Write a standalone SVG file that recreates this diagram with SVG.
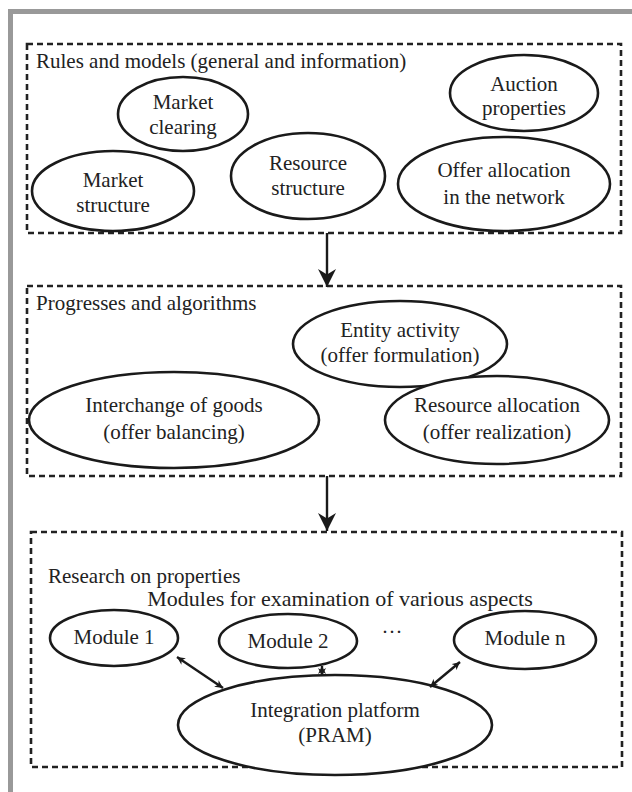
<svg xmlns="http://www.w3.org/2000/svg" width="632" height="792" viewBox="0 0 632 792">
<defs>
<style>
.frame{fill:none;stroke:#999;stroke-width:5}
.box{fill:none;stroke:#222;stroke-width:2.6;stroke-dasharray:6 4}
.node{fill:#fff;stroke:#1a1a1a;stroke-width:2.6}
.t{font-family:"Liberation Serif","Times New Roman",serif;font-size:21px;fill:#222}
.c{text-anchor:middle}
.line{stroke:#1a1a1a;stroke-width:2.4;fill:none}
</style>
<marker id="ah" viewBox="0 0 10 10" refX="10" refY="5" markerWidth="8" markerHeight="8" markerUnits="userSpaceOnUse" orient="auto-start-reverse">
<path d="M0,0 L10,5 L0,10 L3,5 z" fill="#1a1a1a"/>
</marker>
<marker id="big" viewBox="0 0 10 10" refX="10" refY="5" markerWidth="18" markerHeight="20" markerUnits="userSpaceOnUse" orient="auto">
<path d="M0,0 L10,5 L0,10 L3,5 z" fill="#1a1a1a"/>
</marker>
</defs>
<rect width="632" height="792" fill="#fff"/>
<path class="frame" d="M10.5,792 V11.5 H632"/>

<g id="group-rules">
<rect class="box" x="27" y="44" width="594" height="189"/>
<text class="t" x="36" y="68">Rules and models (general and information)</text>
</g>
<g id="node-market-clearing">
<ellipse class="node" cx="183" cy="114" rx="65" ry="37"/>
<text class="t c" x="183" y="109">Market</text>
<text class="t c" x="183" y="134">clearing</text>
</g>
<g id="node-auction">
<ellipse class="node" cx="524" cy="93" rx="74" ry="38"/>
<text class="t c" x="524" y="91">Auction</text>
<text class="t c" x="524" y="115">properties</text>
</g>
<g id="node-market-structure">
<ellipse class="node" cx="113" cy="191" rx="81" ry="40"/>
<text class="t c" x="113" y="187">Market</text>
<text class="t c" x="113" y="212">structure</text>
</g>
<g id="node-resource-structure">
<ellipse class="node" cx="308" cy="176" rx="77" ry="43"/>
<text class="t c" x="308" y="170">Resource</text>
<text class="t c" x="308" y="195">structure</text>
</g>
<g id="node-offer-allocation">
<ellipse class="node" cx="504" cy="184" rx="106" ry="47"/>
<text class="t c" x="504" y="177">Offer allocation</text>
<text class="t c" x="504" y="204">in the network</text>
</g>

<g id="group-progresses">
<rect class="box" x="27" y="286" width="594" height="190"/>
<text class="t" x="36" y="310">Progresses and algorithms</text>
</g>
<g id="node-entity">
<ellipse class="node" cx="400" cy="344" rx="107" ry="43"/>
<text class="t c" x="400" y="337">Entity activity</text>
<text class="t c" x="400" y="362">(offer formulation)</text>
</g>
<g id="node-interchange">
<ellipse class="node" cx="174" cy="420" rx="145" ry="48"/>
<text class="t c" x="174" y="412">Interchange of goods</text>
<text class="t c" x="174" y="439">(offer balancing)</text>
</g>
<g id="node-resource-allocation">
<ellipse class="node" cx="497" cy="420" rx="112" ry="44"/>
<text class="t c" x="497" y="412">Resource allocation</text>
<text class="t c" x="497" y="439">(offer realization)</text>
</g>

<g id="group-research">
<rect class="box" x="31" y="532" width="591" height="235"/>
<text class="t" x="48" y="583">Research on properties</text>
<text class="t c" x="340" y="606" style="font-size:22px">Modules for examination of various aspects</text>
<text class="t c" x="392" y="639">···</text>
</g>
<g id="node-module1">
<ellipse class="node" cx="114" cy="638" rx="64" ry="28"/>
<text class="t c" x="114" y="644">Module 1</text>
</g>
<g id="node-module2">
<ellipse class="node" cx="288" cy="641" rx="69" ry="27"/>
<text class="t c" x="288" y="648">Module 2</text>
</g>
<g id="node-modulen">
<ellipse class="node" cx="525" cy="640" rx="71" ry="29"/>
<text class="t c" x="525" y="645">Module n</text>
</g>
<g id="node-platform">
<ellipse class="node" cx="335" cy="725" rx="157" ry="50"/>
<text class="t c" x="335" y="717">Integration platform</text>
<text class="t c" x="335" y="742">(PRAM)</text>
</g>

<g id="connectors">
<line class="line" x1="177" y1="657" x2="223" y2="688" marker-start="url(#ah)" marker-end="url(#ah)"/>
<line class="line" x1="322" y1="666" x2="322" y2="676" marker-start="url(#ah)" marker-end="url(#ah)"/>
<line class="line" x1="460" y1="662" x2="430" y2="687" marker-start="url(#ah)" marker-end="url(#ah)"/>
<line class="line" x1="327" y1="233" x2="327" y2="287" marker-end="url(#big)"/>
<line class="line" x1="327" y1="476" x2="327" y2="531" marker-end="url(#big)"/>
</g>
</svg>
